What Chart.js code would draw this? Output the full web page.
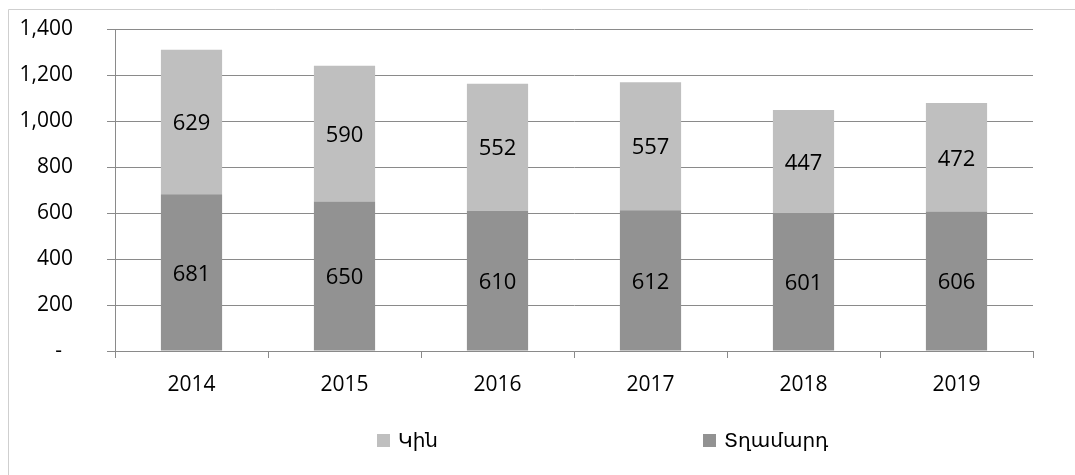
<!DOCTYPE html>
<html>
<head>
<meta charset="utf-8">
<script src="https://cdn.jsdelivr.net/npm/chart.js@4"></script>
<style>
    html, body {
        margin: 0;
        padding: 0;
        background: #fff;
        overflow: hidden;
    }
    #wrap {
        position: relative;
        width: 1075px;
        height: 475px;
        overflow: hidden;
    }
    #myChart {
        position: absolute;
        left: 0;
        top: 0;
    }
    #legend {
        position: absolute;
        top: 428px;
        left: 0;
        width: 1075px;
        height: 24px;
        font-family: "DejaVu Sans", "Noto Sans", sans-serif;
        font-size: 20px;
        color: #000;
    }
    .item {
        position: absolute;
        top: 0;
        line-height: 24px;
        white-space: nowrap;
    }
    .box {
        display: inline-block;
        width: 13px;
        height: 13px;
        margin-right: 8px;
        vertical-align: 0px;
    }
</style>
</head>
<body>
<div id="wrap">
    <canvas id="myChart" width="1075" height="475"></canvas>
    <div id="legend"></div>
</div>
<script>
const years = ["2014", "2015", "2016", "2017", "2018", "2019"];
const men = [681, 650, 610, 612, 601, 606];
const women = [629, 590, 552, 557, 447, 472];
const yTicks = [0, 200, 400, 600, 800, 1000, 1200, 1400];

const menLabel = "Տղամարդ";
const womenLabel = "Կին";
const menColor = "#929292";
const womenColor = "#bfbfbf";
const lineColor = "#8a8a8a";
const font = "Open Sans";

// chart frame: only its left and top edges show in the window
const frame = {
    id: "frame",
    beforeDraw(chart) {
        const ctx = chart.ctx;
        ctx.save();
        ctx.strokeStyle = "#cfcfcf";
        ctx.lineWidth = 1;
        ctx.beginPath();
        ctx.moveTo(8.5, chart.height);
        ctx.lineTo(8.5, 9.5);
        ctx.lineTo(chart.width, 9.5);
        ctx.stroke();
        ctx.restore();
    },
};

// numbers in the middle of each bar segment
const barValues = {
    id: "barValues",
    afterDatasetsDraw(chart) {
        const ctx = chart.ctx;
        ctx.save();
        ctx.font = "22px " + font;
        ctx.fillStyle = "#000";
        ctx.textAlign = "center";
        ctx.textBaseline = "middle";
        chart.data.datasets.forEach((ds, i) => {
            chart.getDatasetMeta(i).data.forEach((bar, j) => {
                ctx.fillText(ds.data[j], bar.x, (bar.y + bar.base) / 2 + 2);
            });
        });
        ctx.restore();
    },
};

const data = {
    labels: years,
    datasets: [
        {
            label: menLabel,
            data: men,
            backgroundColor: menColor,
            barPercentage: 0.4,
            categoryPercentage: 1,
        },
        {
            label: womenLabel,
            data: women,
            backgroundColor: womenColor,
            barPercentage: 0.4,
            categoryPercentage: 1,
        },
    ],
};

const config = {
    type: "bar",
    data: data,
    options: {
        responsive: false,
        animation: false,
        layout: {
            padding: { left: 0, right: 42, top: 29, bottom: 80 },
        },
        scales: {
            x: {
                stacked: true,
                offset: true,
                border: { color: lineColor },
                grid: {
                    offset: true,
                    drawOnChartArea: false,
                    drawTicks: true,
                    tickLength: 7,
                    color: lineColor,
                },
                ticks: {
                    color: "#000",
                    padding: 14,
                    font: { family: font, size: 21 },
                },
                afterFit(scale) {
                    scale.height = 44;
                },
            },
            y: {
                stacked: true,
                min: 0,
                max: 1400,
                border: { color: lineColor },
                grid: {
                    color: lineColor,
                    tickLength: 8,
                },
                afterBuildTicks(scale) {
                    scale.ticks = yTicks.map((v) => ({ value: v }));
                },
                ticks: {
                    color: "#000",
                    padding: 34,
                    font: { family: font, size: 21 },
                    callback: (v) => (v === 0 ? "-  " : v.toLocaleString("en-US")),
                },
                afterFit(scale) {
                    scale.width = 115;
                    // tick padding is also added on top/bottom, drop that
                    scale.paddingTop = 12;
                    scale.paddingBottom = 12;
                },
            },
        },
        plugins: {
            legend: { display: false },
            tooltip: { enabled: false },
        },
    },
    plugins: [frame, barValues],
};

const myChart = new Chart(document.getElementById("myChart").getContext("2d"), config);

// legend under the plot, women first
const legendPos = { [womenLabel]: 377, [menLabel]: 703 };
const legend = document.getElementById("legend");
myChart.data.datasets.slice().reverse().forEach((ds) => {
    const item = document.createElement("div");
    item.className = "item";
    item.style.left = legendPos[ds.label] + "px";
    const box = document.createElement("span");
    box.className = "box";
    box.style.background = ds.backgroundColor;
    item.appendChild(box);
    item.appendChild(document.createTextNode(ds.label));
    legend.appendChild(item);
});
</script>
</body>
</html>
